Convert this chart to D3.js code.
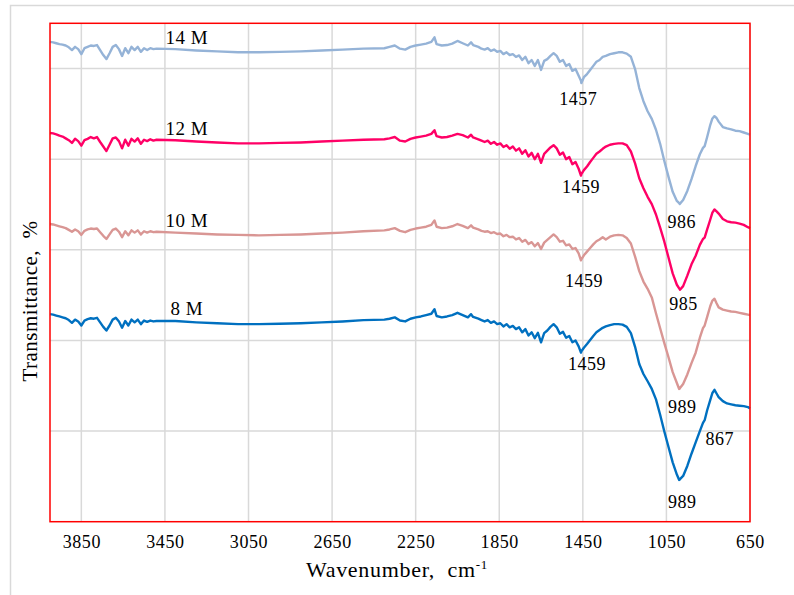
<!DOCTYPE html>
<html>
<head>
<meta charset="utf-8">
<script src="https://cdn.jsdelivr.net/npm/d3@7"></script>
<style>
  html, body { margin: 0; padding: 0; background: #ffffff; }
  svg { display: block; }
  svg text { font-family: "Liberation Serif", "Times New Roman", serif; }
</style>
</head>
<body>
<svg id="chart" width="794" height="595"></svg>
<script>
// FTIR spectra, wavenumber axis in cm-1 (shared by all series)
const wavenumbers = [
  4000,3985,3970,3955,3940,3925,3910,3895,3880,3865,3850,3835,3820,3805,3790,3775,3760,3745,3730,3715,
  3700,3685,3670,3655,3640,3625,3610,3595,3580,3565,3550,3535,3520,3505,3490,
  3400,3300,3200,3100,3000,2900,2800,2700,2600,2500,2400,
  2375,2350,2325,2300,2275,2250,2225,2200,2175,2160,2150,2125,2100,2075,2050,2025,2000,1985,1975,1950,
  1935,1920,1905,1890,1875,1860,1845,1830,1815,1800,1785,1770,1755,1740,1725,1710,1695,1680,1665,1650,
  1635,1620,1605,1590,1575,1560,1545,1530,1515,1500,1485,1470,1459,1457,1445,1430,1415,1400,1385,1370,1355,
  1340,1320,1300,1280,1260,1240,1220,1200,1180,1160,1140,1120,1100,1080,1060,1040,1020,1000,989,986,985,
  970,950,930,910,890,875,867,855,840,830,820,810,800,780,760,740,720,700,680,660,650
];

// Transmittance (offset stacked), one array per concentration
const t14M = [
  105.9,105.8,105.6,105.4,105.3,105.1,104.7,104.1,104.8,104.3,103.2,104.5,104.8,105.1,105.0,105.2,104.1,103.0,102.1,103.4,
  104.8,105.2,104.3,102.8,104.5,103.4,104.8,104.1,104.8,103.7,104.5,104.1,104.5,104.3,104.4,
  104.3,104.0,103.8,103.6,103.6,103.7,103.8,104.0,104.2,104.4,104.5,
  104.8,105.1,104.4,104.2,104.8,105.1,105.3,105.5,105.9,106.9,105.4,105.1,105.2,105.5,106.1,105.6,105.1,105.8,105.2,104.8,
  104.4,104.2,104.5,103.9,104.2,103.7,103.9,103.2,103.6,103.0,103.2,102.6,102.9,101.9,102.6,101.2,101.9,100.6,101.9,99.7,
  101.7,102.1,102.8,103.4,102.8,101.5,101.9,100.6,101.0,99.5,99.9,98.4,97.3,96.8,98.1,98.8,99.7,100.6,101.5,101.9,102.6,
  102.8,103.2,103.4,103.6,103.6,103.3,102.6,99.9,95.7,92.8,90.6,88.9,86.5,83.4,79.6,76.1,72.8,70.8,70.3,70.1,70.2,
  71.0,73.0,75.6,78.5,81.1,82.5,82.9,84.9,87.6,89.0,89.5,89.1,88.3,87.1,86.8,86.6,86.3,86.2,85.9,85.6,85.4
];
const t12M = [
  85.8,85.7,85.5,85.2,85.0,84.6,84.2,83.6,84.5,84.0,83.0,84.2,84.5,84.9,84.6,84.9,83.8,82.8,81.8,83.2,
  84.6,84.8,84.0,82.4,84.3,83.0,84.5,83.9,84.6,83.4,84.3,84.0,84.4,84.1,84.3,
  84.2,83.9,83.7,83.5,83.5,83.6,83.7,83.9,84.1,84.3,84.4,
  84.6,84.9,84.1,83.9,84.5,84.8,85.0,85.2,85.6,86.4,85.1,84.8,84.9,85.2,85.6,85.3,84.8,85.4,84.8,84.4,
  84.1,83.8,84.1,83.4,83.8,83.2,83.5,82.7,83.1,82.3,82.8,81.9,82.4,81.2,82.0,80.6,81.4,80.0,81.2,79.2,
  81.2,81.9,82.6,83.1,82.4,81.0,81.5,80.0,80.5,78.9,79.4,77.9,76.4,76.7,77.6,78.4,79.4,80.3,81.2,81.7,82.3,
  82.8,83.2,83.4,83.5,83.5,83.1,81.7,79.1,75.8,73.6,71.7,70.1,67.8,64.9,61.8,58.3,54.8,52.3,51.5,51.3,51.2,
  52.0,54.3,56.8,58.7,61.1,62.4,62.7,64.5,66.7,68.2,68.9,68.5,68.0,66.8,66.3,66.1,66.0,65.8,65.5,65.0,64.8
];
const t10M = [
  65.7,65.6,65.4,65.2,65.0,64.8,64.4,64.0,64.5,64.1,63.3,64.2,64.5,64.7,64.6,64.7,63.9,63.1,62.4,63.4,
  64.4,64.7,64.0,62.8,64.1,63.2,64.3,63.8,64.3,63.4,64.1,63.8,64.1,63.9,64.0,
  63.8,63.6,63.4,63.3,63.2,63.3,63.4,63.6,63.8,64.1,64.3,
  64.5,64.8,64.2,63.9,64.4,64.7,64.9,65.1,65.5,66.5,65.1,64.8,64.9,65.2,65.7,65.3,64.8,65.4,64.9,64.5,
  64.2,64.0,64.1,63.7,63.9,63.5,63.6,63.0,63.3,62.8,62.9,62.3,62.6,61.8,62.2,61.3,61.7,60.8,61.5,60.2,
  61.6,62.2,62.8,63.4,62.8,61.8,62.0,61.0,61.2,60.2,60.4,59.2,57.7,57.9,58.8,59.6,60.4,61.2,61.9,62.3,62.8,
  62.3,62.9,63.2,63.3,63.2,62.6,61.4,58.5,55.3,53.0,51.4,49.5,46.0,42.7,39.4,36.3,33.0,30.6,29.3,29.4,29.5,
  30.4,32.5,35.0,37.3,40.6,42.7,43.3,45.2,47.6,48.8,49.2,48.2,47.3,46.8,46.6,46.4,46.3,46.1,45.9,45.7,45.6
];
const t8M = [
  45.8,45.7,45.5,45.3,45.1,44.9,44.5,43.9,44.6,44.2,43.3,44.4,44.7,44.9,44.8,45.0,44.0,43.0,42.2,43.3,
  44.6,45.0,44.2,42.8,44.3,43.3,44.6,44.0,44.6,43.6,44.4,44.1,44.4,44.2,44.3,
  44.3,44.0,43.8,43.6,43.6,43.7,43.8,44.0,44.2,44.5,44.6,
  44.8,45.1,44.4,44.2,44.8,45.1,45.3,45.6,45.9,46.9,45.4,45.1,45.3,45.6,46.1,45.6,45.1,45.8,45.2,44.8,
  44.5,44.2,44.5,43.9,44.2,43.6,43.8,43.1,43.6,42.9,43.2,42.5,42.9,41.8,42.5,41.1,41.8,40.5,41.7,39.6,
  41.6,42.2,43.0,43.6,42.9,41.5,41.9,40.6,41.0,39.6,40.0,38.7,37.3,37.6,38.4,39.2,40.1,41.0,41.8,42.3,42.8,
  43.1,43.4,43.6,43.6,43.5,43.0,41.6,38.6,34.8,32.6,31.0,29.3,27.0,23.6,19.9,16.5,13.1,10.4,9.2,9.3,9.4,
  10.1,12.3,15.0,17.5,20.0,21.8,22.4,24.6,26.9,28.4,29.1,28.3,27.5,26.6,26.1,25.9,25.7,25.6,25.5,25.3,25.0
];

const seriesNames = ["14 M", "12 M", "10 M", "8 M"];
const seriesValues = [t14M, t12M, t10M, t8M];
const seriesColors = ["#95B3D7", "#FF0066", "#D99694", "#0070C0"];

// Axis ticks
const xTickValues = [3850, 3450, 3050, 2650, 2250, 1850, 1450, 1050, 650];
const yGridValues = [20, 40, 60, 80, 100];

// Marked band positions (series, wavenumber)
const peakSeries = ["14 M", "12 M", "10 M", "8 M", "14 M", "12 M", "10 M", "8 M", "8 M"];
const peakWavenumbers = [1457, 1459, 1459, 1459, 986, 985, 989, 989, 867];

// Layout
const plot = { left: 50, right: 750, top: 23.3, bottom: 521.7 };
const peakLabelOffsets = [[-3, 22], [0, 17.5], [3, 26.5], [6, 17.5], [2, 24], [3.5, 20.5], [3, 24], [3, 28], [15, 25]];
const seriesLabelWn = 3345;
const seriesLabelRefWn = 3400;
const FONT = "'Liberation Serif', 'Times New Roman', serif";

const svg = d3.select("#chart");

const x = d3.scaleLinear().domain([4000, 650]).range([plot.left, plot.right]);
const y = d3.scaleLinear().domain([0, 110]).range([plot.bottom, plot.top]);

// outer chart frame
svg.append("rect")
  .attr("x", 10.5).attr("y", 5.5).attr("width", 820).attr("height", 620)
  .attr("fill", "#ffffff").attr("stroke", "#D9D9D9").attr("stroke-width", 1.5);

// gridlines
const grid = svg.append("g").attr("stroke", "#D9D9D9").attr("stroke-width", 1.5);
grid.selectAll("line.v").data(xTickValues).join("line")
  .attr("class", "v")
  .attr("x1", d => x(d)).attr("x2", d => x(d))
  .attr("y1", plot.top).attr("y2", plot.bottom);
grid.selectAll("line.h").data(yGridValues).join("line")
  .attr("class", "h")
  .attr("x1", plot.left).attr("x2", plot.right)
  .attr("y1", d => y(d)).attr("y2", d => y(d));

// spectra
const line = d3.line()
  .x(d => x(d[0]))
  .y(d => y(d[1]));

seriesValues.forEach((vals, i) => {
  const pts = wavenumbers.map((w, k) => [w, vals[k]]);
  svg.append("path")
    .datum(pts)
    .attr("fill", "none")
    .attr("stroke", seriesColors[i])
    .attr("stroke-width", 2.4)
    .attr("stroke-linejoin", "round")
    .attr("d", line);
});

// plot area border
svg.append("rect")
  .attr("x", plot.left).attr("y", plot.top)
  .attr("width", plot.right - plot.left).attr("height", plot.bottom - plot.top)
  .attr("fill", "none").attr("stroke", "#FF0000").attr("stroke-width", 1.5);

// x axis
const xAxis = d3.axisBottom(x).tickValues(xTickValues).tickSize(0).tickPadding(0).tickFormat(d3.format("d"));
const gx = svg.append("g").attr("transform", `translate(0,${plot.bottom})`).call(xAxis)
  .attr("font-family", FONT).attr("font-size", 18);
gx.select(".domain").remove();
gx.selectAll("text")
  .attr("y", 26.5).attr("dy", null)
  .attr("fill", "#000")
  .style("font-family", FONT)
  .style("font-size", "18px")
  .style("letter-spacing", "0.6px");

// axis titles
const xTitle = svg.append("text")
  .attr("x", 306).attr("y", 577)
  .attr("fill", "#000")
  .style("font-family", FONT)
  .style("font-size", "22px")
  .style("letter-spacing", "0.7px");
xTitle.append("tspan").text("Wavenumber,\u00A0\u00A0cm");
xTitle.append("tspan").attr("dy", -8).style("font-size", "13px").text("-1");

svg.append("text")
  .attr("transform", "translate(36.5,301) rotate(-90)")
  .attr("text-anchor", "middle")
  .attr("fill", "#000")
  .style("font-family", FONT)
  .style("font-size", "21px")
  .style("letter-spacing", "0.5px")
  .text("Transmittance,\u00A0\u00A0%");

// series labels
seriesNames.forEach((name, i) => {
  const k = wavenumbers.indexOf(seriesLabelRefWn);
  svg.append("text")
    .attr("x", x(seriesLabelWn))
    .attr("y", y(seriesValues[i][k]) - 5.5)
    .attr("text-anchor", "middle")
    .attr("fill", "#000")
    .style("font-family", FONT)
    .style("font-size", "19px")
    .style("letter-spacing", "0.5px")
    .text(name);
});

// band labels
peakWavenumbers.forEach((wn, j) => {
  const si = seriesNames.indexOf(peakSeries[j]);
  const k = wavenumbers.indexOf(wn);
  const [dx, dy] = peakLabelOffsets[j];
  svg.append("text")
    .attr("x", x(wn) + dx)
    .attr("y", y(seriesValues[si][k]) + dy)
    .attr("text-anchor", "middle")
    .attr("fill", "#000")
    .style("font-family", FONT)
    .style("font-size", "18px")
    .style("letter-spacing", "0.5px")
    .text(String(wn));
});
</script>
</body>
</html>
